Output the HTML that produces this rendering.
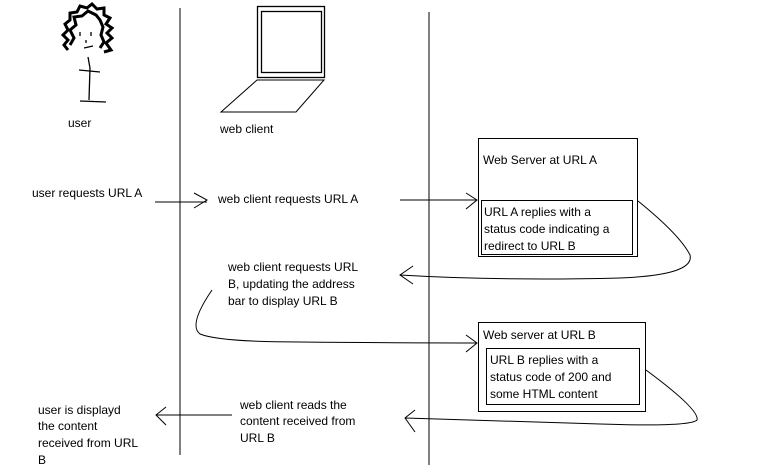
<!DOCTYPE html>
<html><head><style>body{margin:0;background:#fff}svg{display:block}text{font-family:"Liberation Sans",sans-serif;font-size:12px;fill:#000}</style></head>
<body>
<svg width="760" height="476" viewBox="0 0 760 476" xmlns="http://www.w3.org/2000/svg" fill="none" stroke="#000" stroke-width="1">
<line x1="180" y1="8" x2="180" y2="455"/>
<line x1="429" y1="12" x2="429" y2="465"/>
<!-- stick figure -->
<g stroke-width="1.3">
<path d="M68 50 L64 45 L68 40 L63 35 L68 30 L65 24 L70 20 L70 13 L77 12 L80 6 L87 8 L92 4 L97 9 L104 8 L104 15 L110 18 L106 24 L112 28 L107 33 L112 38 L106 43 L111 50 L104 52" stroke-width="3"/>
<path d="M70 45 L74 38 L70 30 L76 25 L74 17 L82 16 L88 11 L96 15 L100 20 L103 27 L101 35 L104 42 L100 48" stroke-width="3"/>
<path d="M80 32 v4 M91 32 v4 M86 40 v3 M84 48 l9 -2"/>
<path d="M88 57 L90 68 L89 100 M79 70 L100 72 M80 101 L106 102"/>
</g>
<!-- laptop -->
<rect x="257.5" y="6.5" width="67" height="71" stroke-width="1.3"/>
<rect x="261.5" y="11.5" width="60" height="61" stroke-width="1.3"/>
<path d="M257 80 L324 80 L296 112 L221 112 Z"/>
<text x="68" y="127" stroke="none">user</text>
<text x="220" y="133" stroke="none">web client</text>
<text x="32" y="197" stroke="none">user requests URL A</text>
<path d="M155 202 L207 202 M194 193 L207 200 L194 208"/>
<text x="218" y="203" stroke="none">web client requests URL A</text>
<path d="M400 200 L476 200 M466 193 L477 200 L466 209"/>
<!-- box A -->
<rect x="478.5" y="138.5" width="159" height="118"/>
<rect x="481.5" y="200.5" width="151" height="54"/>
<text x="483" y="164" stroke="none">Web Server at URL A</text>
<text x="484" y="216" stroke="none">URL A replies with a</text>
<text x="484" y="233" stroke="none">status code indicating a</text>
<text x="484" y="250" stroke="none">redirect to URL B</text>
<path d="M638 201 Q680 235 690 255 Q695 275 620 278 Q500 281 400 275 M413 266 L400 275 L413 284"/>
<text x="228" y="271" stroke="none">web client requests URL</text>
<text x="228" y="288" stroke="none">B, updating the address</text>
<text x="228" y="305" stroke="none">bar to display URL B</text>
<path d="M212 290 Q188 325 200 334 Q220 342 300 342 Q400 343 476 343 M466 335 L477 343 L466 352"/>
<!-- box B -->
<rect x="478.5" y="322.5" width="167" height="89"/>
<rect x="486.5" y="348.5" width="153" height="56"/>
<text x="483" y="339" stroke="none">Web server at URL B</text>
<text x="490" y="364" stroke="none">URL B replies with a</text>
<text x="490" y="381" stroke="none">status code of 200 and</text>
<text x="490" y="398" stroke="none">some HTML content</text>
<path d="M646 370 Q700 410 697 420 Q690 427 600 424 Q500 421 405 418 M415 410 L405 418 L415 432"/>
<text x="240" y="409" stroke="none">web client reads the</text>
<text x="240" y="425" stroke="none">content received from</text>
<text x="240" y="442" stroke="none">URL B</text>
<path d="M232 415 L156 415 M166 407 L156 415 L166 425"/>
<text x="38" y="414" stroke="none">user is displayd</text>
<text x="38" y="430" stroke="none">the content</text>
<text x="38" y="447" stroke="none">received from URL</text>
<text x="38" y="464" stroke="none">B</text>
</svg>
</body></html>
